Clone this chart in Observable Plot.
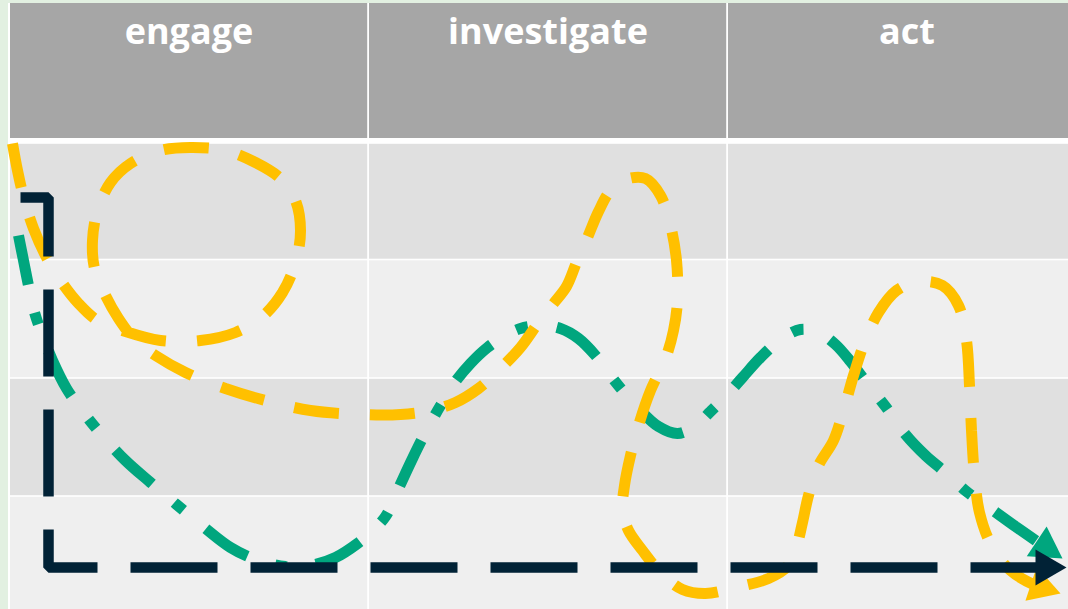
<!DOCTYPE html>
<html>
<head>
<meta charset="utf-8">
<script src="https://cdn.jsdelivr.net/npm/d3@7"></script>
<script src="https://cdn.jsdelivr.net/npm/@observablehq/plot@0.6"></script>
<style>
  html, body { margin: 0; padding: 0; background: #e2f0e1; overflow: hidden; }
  #chart svg { display: block; }
</style>
</head>
<body>
<div id="chart"></div>
<script>
// ---- layout data (diagram units = pixels of the 1068x609 canvas) ----
const canvas = [1068, 609];
const stages = ["engage", "investigate", "act"];
const columnEdges = [9, 368, 727, 1086];
const panelEdge = [8, 3];              // left / top edge of the white panel
const headerBand = [3, 138];           // header top / bottom
const rowEdges = [143, 259.5, 378, 496, 620];
const rowFills = ["#e0e0e0", "#efefef", "#e0e0e0", "#efefef"];
const headerTextY = 32;

// ---- colours ----
const headerFill = "#a6a6a6";
const navy = "#012236";
const yellow = "#ffc000";
const green = "#00a67e";

// ---- axis path (dark dashed L with arrow) ----
const axisPath = [[20, 197], [48, 197], [48, 567], [1066, 567]];

// ---- yellow dashed squiggle ----
const yellowPath = [
  [12, 143], [17, 170], [24, 200], [33, 228], [45, 255], [60, 280], [78, 303], [97, 320],
  [125, 331], [160, 340], [200, 340], [235, 332], [262, 316], [282, 292], [295, 262],
  [300, 230], [295, 200], [280, 178], [255, 162], [225, 150], [190, 147], [160, 150],
  [130, 163], [110, 182], [97, 210], [92, 240], [94, 268], [104, 293], [118, 318],
  [135, 340], [155, 355], [185, 372], [225, 388], [265, 400], [310, 410], [360, 414],
  [400, 414], [430, 410], [455, 402], [478, 388], [500, 368], [520, 347], [538, 322],
  [553, 303], [566, 286], [576, 262], [587, 237], [598, 211], [610, 190], [625, 179],
  [645, 178], [660, 195], [670, 225], [676, 260], [677, 300], [673, 330], [665, 358],
  [650, 390], [638, 425], [630, 455], [624, 485], [622, 510], [628, 530], [642, 550],
  [660, 572], [682, 589], [705, 593], [735, 587], [768, 578], [787, 566], [796, 546],
  [802, 522], [808, 495], [818, 465], [833, 440], [843, 410], [853, 375], [864, 342],
  [878, 312], [896, 290], [918, 281], [942, 285], [958, 305], [966, 340], [969, 385],
  [971, 430], [974, 475], [979, 512], [991, 545], [1010, 570], [1033, 584], [1060, 593]
];

// ---- green dash-dot squiggle ----
const greenPath = [
  [18, 235], [23, 260], [28, 285], [34, 312], [42, 335], [52, 360], [66, 388], [83, 412],
  [100, 433], [125, 460], [150, 482], [176, 504], [205, 528], [230, 547], [255, 559],
  [285, 566], [310, 565], [335, 557], [357, 543], [372, 530], [385, 516], [398, 488],
  [412, 458], [425, 432], [440, 405], [455, 381], [470, 363], [487, 347], [505, 335],
  [520, 328], [540, 325], [560, 328], [578, 338], [595, 355], [610, 375], [622, 390],
  [640, 410], [658, 426], [677, 433], [694, 426], [710, 411], [725, 396], [742, 377],
  [760, 357], [780, 339], [800, 329], [818, 332], [835, 344], [850, 361], [866, 382],
  [885, 406], [905, 434], [925, 455], [945, 472], [966, 491], [990, 508], [1015, 526],
  [1038, 542], [1062, 558]
];

// ---- arrowhead length (base to tip) ----
const arrowLength = 31;

// helpers: shorten the line under its arrowhead and place the head
function lastDir(path) {
  const a = path[path.length - 2], b = path[path.length - 1];
  const dx = b[0] - a[0], dy = b[1] - a[1];
  const L = Math.hypot(dx, dy);
  return [dx / L, dy / L];
}
function trimmed(path, h) {
  const [ux, uy] = lastDir(path);
  const tip = path[path.length - 1];
  return [...path.slice(0, -1), [tip[0] - ux * h * 0.6, tip[1] - uy * h * 0.6]];
}
function head(path, h) {
  const [ux, uy] = lastDir(path);
  const tip = path[path.length - 1];
  const c = (2 / 3) * h; // centroid distance from tip
  return { x: tip[0] - ux * c, y: tip[1] - uy * c, angle: Math.atan2(uy, ux) * 180 / Math.PI + 90 };
}
const headR = arrowLength / Math.sqrt(Math.sqrt(3) * Math.PI);

// ---- table cells ----
const headerCells = stages.map((s, i) => ({
  stage: s, x1: columnEdges[i], x2: Math.min(columnEdges[i + 1], canvas[0] + 2),
  xm: (columnEdges[i] + columnEdges[i + 1]) / 2
}));
const bodyCells = [];
stages.forEach((s, i) => rowFills.forEach((f, j) => bodyCells.push({
  x1: columnEdges[i], x2: Math.min(columnEdges[i + 1], canvas[0] + 2),
  y1: rowEdges[j], y2: rowEdges[j + 1], fill: f
})));

const px = d => d[0], py = d => d[1];
const arrowHead = (path, color) => Plot.dot([head(path, arrowLength)], {
  x: "x", y: "y", r: headR, rotate: "angle", symbol: "triangle", fill: color, stroke: "none"
});

const chart = Plot.plot({
  width: canvas[0],
  height: canvas[1],
  margin: 0,
  style: { background: "transparent", overflow: "hidden" },
  x: { domain: [0, canvas[0]], range: [0, canvas[0]], axis: null },
  y: { domain: [0, canvas[1]], range: [0, canvas[1]], axis: null },
  marks: [
    Plot.rect([0], { x1: panelEdge[0], x2: canvas[0] + 2, y1: panelEdge[1], y2: canvas[1] + 2, fill: "white" }),
    Plot.rect(headerCells, { x1: "x1", x2: "x2", y1: headerBand[0], y2: headerBand[1], fill: headerFill, insetLeft: 1, insetRight: 0.8 }),
    Plot.rect(bodyCells, { x1: "x1", x2: "x2", y1: "y1", y2: "y2", fill: "fill", insetLeft: 1, insetRight: 0.8, insetTop: 0.8, insetBottom: 0.8 }),
    Plot.text(headerCells, {
      x: "xm", y: headerTextY, text: "stage", fill: "white",
      fontSize: 36, fontWeight: "bold", fontFamily: "'Open Sans', sans-serif"
    }),
    Plot.line(trimmed(greenPath, arrowLength), {
      x: px, y: py, curve: "catmull-rom", stroke: green, strokeWidth: 11,
      strokeDasharray: "50,29,12,29", strokeLinecap: "butt", strokeLinejoin: "miter"
    }),
    arrowHead(greenPath, green),
    Plot.line(trimmed(yellowPath, arrowLength), {
      x: px, y: py, curve: "catmull-rom", stroke: yellow, strokeWidth: 11,
      strokeDasharray: "45,31", strokeLinecap: "butt", strokeLinejoin: "miter"
    }),
    arrowHead(yellowPath, yellow),
    Plot.line(trimmed(axisPath, arrowLength), {
      x: px, y: py, curve: "linear", stroke: navy, strokeWidth: 10.5,
      strokeDasharray: "87,33", strokeLinecap: "butt", strokeLinejoin: "miter"
    }),
    arrowHead(axisPath, navy)
  ]
});
document.getElementById("chart").appendChild(chart);
</script>
</body>
</html>
